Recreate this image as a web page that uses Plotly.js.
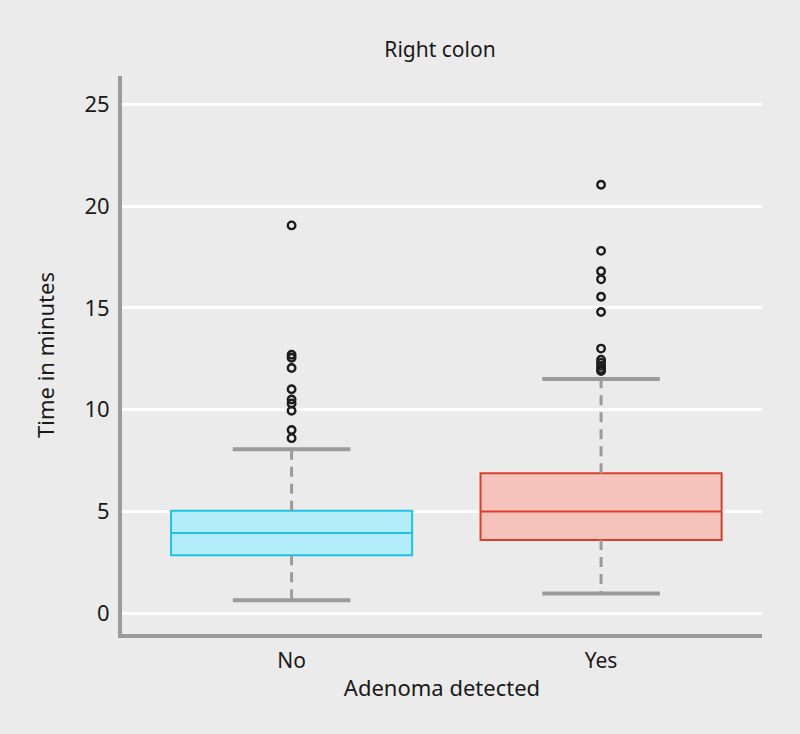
<!DOCTYPE html>
<html><head><meta charset="utf-8">
<script src="https://cdn.plot.ly/plotly-3.0.1.min.js"></script>
<style>html,body{margin:0;padding:0;background:#ebebeb}</style>
</head><body><div id="chart" style="width:800px;height:734px"></div>
<script>
const categories = ['No', 'Yes'];
const q1 = [2.85, 3.6];
const medians = [3.94, 5.0];
const q3 = [5.03, 6.88];
const lowerWhisker = [0.64, 0.97];
const upperWhisker = [8.05, 11.5];
const outliersNo = [19.05, 12.7, 12.55, 12.05, 11.0, 10.5, 10.3, 9.95, 9.0, 8.6];
const outliersYes = [21.05, 17.8, 16.8, 16.4, 15.55, 14.8, 13.0, 12.45, 12.3, 12.15, 12.0, 11.9];
const yTicks = [0, 5, 10, 15, 20, 25];

const lineColors = ['#1ec3e6', '#d9402c'];
const fillColors = ['#b2edf9', '#f6c2bc'];
const grey = '#9b9b9b';
const capHalf = 0.19;
const boxWidth = 0.779;
const outliers = [outliersNo, outliersYes];

const traces = [];
categories.forEach((c, i) => {
  traces.push({
    type: 'scatter', mode: 'lines', hoverinfo: 'skip', showlegend: false,
    x: [i, i, null, i, i],
    y: [q3[i], upperWhisker[i], null, q1[i], lowerWhisker[i]],
    line: {color: grey, width: 3, dash: '10px,7px'}
  });
  traces.push({
    type: 'scatter', mode: 'lines', hoverinfo: 'skip', showlegend: false,
    x: [i - capHalf, i + capHalf, null, i - capHalf, i + capHalf],
    y: [upperWhisker[i], upperWhisker[i], null, lowerWhisker[i], lowerWhisker[i]],
    line: {color: grey, width: 4}
  });
  traces.push({
    type: 'box', name: c, showlegend: false, hoverinfo: 'skip',
    x: [i], q1: [q1[i]], median: [medians[i]], q3: [q3[i]],
    lowerfence: [q1[i]], upperfence: [q3[i]],
    width: boxWidth, whiskerwidth: 0,
    line: {color: lineColors[i], width: 2}, fillcolor: fillColors[i]
  });
  traces.push({
    type: 'scatter', mode: 'markers', hoverinfo: 'skip', showlegend: false,
    x: outliers[i].map(() => i), y: outliers[i],
    marker: {symbol: 'circle-open', size: 7.5, color: '#1c1c1c', line: {width: 2.4, color: '#1c1c1c'}}
  });
});

const font = 'Noto Sans, Open Sans, sans-serif';
const layout = {
  width: 800, height: 734,
  paper_bgcolor: '#ebebeb', plot_bgcolor: '#ebebeb',
  margin: {l: 122, r: 38, t: 76, b: 100},
  font: {family: font, color: '#1a1a1a', size: 21},
  title: {text: 'Right colon', x: 0.55, xanchor: 'center', y: 0.932, yanchor: 'middle', font: {size: 21, family: font, color: '#1a1a1a'}},
  showlegend: false,
  xaxis: {
    type: 'linear', range: [-0.548, 1.52],
    tickvals: categories.map((c, i) => i), ticktext: categories,
    showgrid: false, zeroline: false,
    showline: true, linecolor: grey, linewidth: 4,
    ticks: 'outside', ticklen: 5, tickcolor: 'rgba(0,0,0,0)',
    tickfont: {size: 21},
    title: {text: 'Adenoma detected', font: {size: 22}, standoff: 8}
  },
  yaxis: {
    range: [-1.02, 26.39], tickvals: yTicks,
    showgrid: true, gridcolor: '#ffffff', gridwidth: 3,
    zeroline: false,
    showline: true, linecolor: grey, linewidth: 4,
    ticks: 'outside', ticklen: 4, tickcolor: 'rgba(0,0,0,0)',
    tickfont: {size: 22},
    title: {text: 'Time in minutes', font: {size: 22}, standoff: 25}
  }
};
Plotly.newPlot('chart', traces, layout, {displayModeBar: false, staticPlot: true});
</script></body></html>
